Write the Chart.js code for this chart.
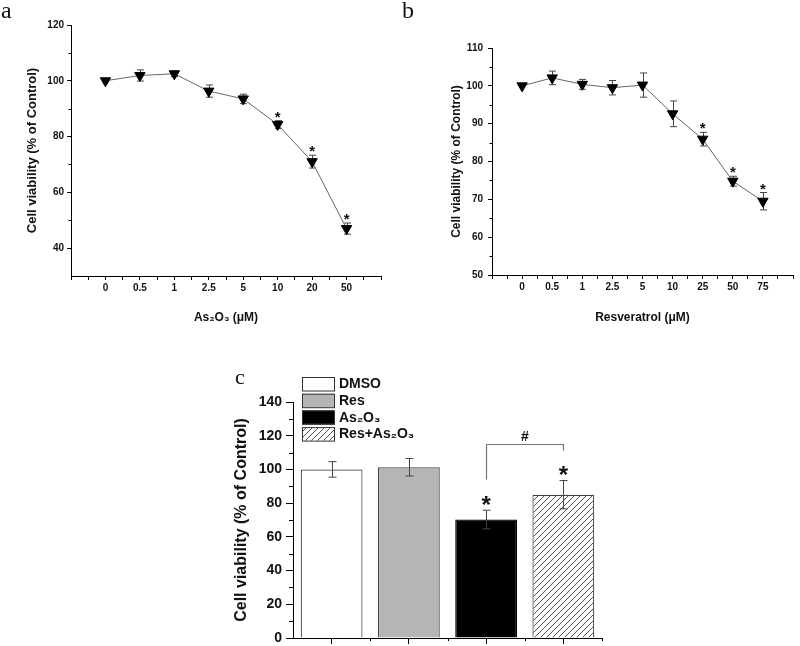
<!DOCTYPE html>
<html>
<head>
<meta charset="utf-8">
<script src="https://cdn.jsdelivr.net/npm/chart.js"></script>
<style>
  body { margin: 0; background: #fff; width: 800px; height: 646px; position: relative; overflow: hidden; }
  canvas { position: absolute; }
</style>
</head>
<body>
<canvas id="chartA" width="400" height="330" style="left:0;top:0"></canvas>
<canvas id="chartB" width="400" height="330" style="left:400px;top:0"></canvas>
<canvas id="chartC" width="420" height="300" style="left:200px;top:360px"></canvas>
<script>
// panel a: As2O3 dose response
var dosesA = ['0', '0.5', '1', '2.5', '5', '10', '20', '50'];
var viabilityA = [100, 101.9, 102.5, 96.3, 93.5, 84.3, 71.0, 47.0];
var errorA = [0, 2.0, 1.0, 2.2, 1.7, 1.4, 2.3, 2.0];
var starsA = [5, 6, 7];
var yTicksA = [40, 60, 80, 100, 120];
var yMinorA = [50, 70, 90, 110];

// panel b: resveratrol dose response
var dosesB = ['0', '0.5', '1', '2.5', '5', '10', '25', '50', '75'];
var viabilityB = [100, 102.1, 100.4, 99.5, 100.2, 92.6, 85.9, 74.8, 69.5];
var errorB = [0, 1.8, 1.3, 1.9, 3.2, 3.4, 1.8, 1.3, 2.3];
var starsB = [6, 7, 8];
var yTicksB = [50, 60, 70, 80, 90, 100, 110];
var yMinorB = [55, 65, 75, 85, 95, 105];

// panel c: combination
var groupsC = ['DMSO', 'Res', 'As₂O₃', 'Res+As₂O₃'];
var viabilityC = [100, 101.3, 70.3, 85.0];
var errorC = [4.6, 5.2, 5.5, 8.4];
var starsC = [2, 3];
var yTicksC = [0, 20, 40, 60, 80, 100, 120, 140];
var yMinorC = [10, 30, 50, 70, 90, 110, 130];

var SANS = '"Liberation Sans", Arial, sans-serif';
var SERIF = '"Liberation Serif", "Times New Roman", serif';
var INK = '#111';

function tickList(vals) {
  return vals.map(function (v) { return { value: v }; });
}

function halfSteps(from, to) {
  var t = [];
  for (var v = from; v <= to; v += 0.5) t.push({ value: v });
  return t;
}

function drawStar(ctx, x, cy, size) {
  ctx.font = 'bold ' + size + 'px ' + SANS;
  ctx.textAlign = 'center';
  ctx.textBaseline = 'alphabetic';
  var m = ctx.measureText('*');
  ctx.fillText('*', x, cy + (m.actualBoundingBoxAscent - m.actualBoundingBoxDescent) / 2);
}

function errorBar(ctx, px, top, bot, cap) {
  ctx.beginPath();
  ctx.moveTo(px, top); ctx.lineTo(px, bot);
  ctx.moveTo(px - cap, top); ctx.lineTo(px + cap, top);
  ctx.moveTo(px - cap, bot); ctx.lineTo(px + cap, bot);
  ctx.stroke();
}

function minorTicksY(chart, vals, len) {
  var ctx = chart.ctx, y = chart.scales.y, left = chart.chartArea.left;
  ctx.beginPath();
  vals.forEach(function (v) {
    var py = Math.round(y.getPixelForValue(v)) + 0.5;
    ctx.moveTo(left, py); ctx.lineTo(left - len, py);
  });
  ctx.stroke();
}

function doseChart(id, c) {
  var pts = c.values.map(function (v, i) { return { x: i, y: v }; });
  var overlay = {
    id: 'overlay',
    beforeDatasetsDraw: function (chart) {
      var ctx = chart.ctx, x = chart.scales.x, y = chart.scales.y;
      ctx.save();
      ctx.strokeStyle = '#444';
      ctx.lineWidth = 1;
      c.values.forEach(function (v, i) {
        if (!c.errors[i]) return;
        var px = Math.round(x.getPixelForValue(i)) + 0.5;
        errorBar(ctx, px, y.getPixelForValue(v + c.errors[i]), y.getPixelForValue(v - c.errors[i]), 3.5);
      });
      ctx.restore();
    },
    afterDraw: function (chart) {
      var ctx = chart.ctx, x = chart.scales.x, y = chart.scales.y;
      ctx.save();
      ctx.strokeStyle = '#000';
      ctx.lineWidth = 1;
      minorTicksY(chart, c.minorY, 2.5);
      ctx.fillStyle = INK;
      c.stars.forEach(function (i) {
        drawStar(ctx, x.getPixelForValue(i), y.getPixelForValue(c.values[i] + c.errors[i]) - 6, 15);
      });
      ctx.font = '24px ' + SERIF;
      ctx.textAlign = 'left';
      ctx.textBaseline = 'alphabetic';
      ctx.fillText(c.letter, c.letterX, c.letterY);
      ctx.restore();
    }
  };

  return new Chart(document.getElementById(id).getContext('2d'), {
    type: 'line',
    data: {
      datasets: [{
        data: pts,
        borderColor: '#666',
        borderWidth: 1,
        tension: 0,
        pointStyle: 'triangle',
        rotation: 180,
        pointRadius: 6,
        pointBackgroundColor: '#000',
        pointBorderColor: '#000',
        pointBorderWidth: 1
      }]
    },
    options: {
      responsive: false,
      animation: false,
      layout: { padding: c.padding },
      plugins: { legend: { display: false }, tooltip: { enabled: false } },
      scales: {
        x: {
          type: 'linear',
          min: -1,
          max: c.doses.length,
          afterBuildTicks: function (s) { s.ticks = halfSteps(-1, c.doses.length); },
          afterFit: function (s) { s.height = c.xHeight; },
          ticks: {
            autoSkip: false,
            maxRotation: 0,
            padding: 2,
            color: INK,
            font: { family: SANS, size: 10, weight: 'bold' },
            callback: function (v) {
              return (Number.isInteger(v) && v >= 0 && v < c.doses.length) ? c.doses[v] : '';
            }
          },
          grid: { drawOnChartArea: false, tickLength: 4, color: '#000' },
          border: { color: '#000', width: 1 },
          title: {
            display: true,
            text: c.xTitle,
            color: INK,
            font: { family: SANS, size: 12, weight: 'bold' },
            padding: { top: 0, bottom: 4.8 }
          }
        },
        y: {
          min: c.yMin,
          max: c.yMax,
          afterBuildTicks: function (s) { s.ticks = tickList(c.yTicks); },
          afterFit: function (s) { s.width = c.yWidth; },
          ticks: {
            padding: c.yPad,
            color: INK,
            font: { family: SANS, size: 10, weight: 'bold' }
          },
          grid: { drawOnChartArea: false, tickLength: 4, color: '#000' },
          border: { color: '#000', width: 1 },
          title: {
            display: true,
            text: 'Cell viability (% of Control)',
            color: INK,
            font: { family: SANS, size: c.yTitleSize, weight: 'bold' },
            padding: { top: c.yTitlePad, bottom: 0 }
          }
        }
      }
    },
    plugins: [overlay]
  });
}

doseChart('chartA', {
  doses: dosesA, values: viabilityA, errors: errorA, stars: starsA,
  yTicks: yTicksA, minorY: yMinorA, yMin: 30, yMax: 120,
  xTitle: 'As₂O₃ (μM)',
  padding: { left: 0, right: 19, top: 25, bottom: 0 },
  xHeight: 54, yWidth: 71, yPad: 3, yTitleSize: 13, yTitlePad: 25,
  letter: 'a', letterX: 1, letterY: 17.5
});

doseChart('chartB', {
  doses: dosesB, values: viabilityB, errors: errorB, stars: starsB,
  yTicks: yTicksB, minorY: yMinorB, yMin: 50, yMax: 110,
  xTitle: 'Resveratrol (μM)',
  padding: { left: 0, right: 2, top: 48, bottom: 0 },
  xHeight: 55, yWidth: 92, yPad: 5, yTitleSize: 12, yTitlePad: 49.5,
  letter: 'b', letterX: 2, letterY: 18.3
});

// hatch for Res+As2O3
function hatch(ctx) {
  var t = document.createElement('canvas');
  t.width = 6; t.height = 6;
  var g = t.getContext('2d');
  g.fillStyle = '#fff';
  g.fillRect(0, 0, 6, 6);
  g.strokeStyle = '#555';
  g.lineWidth = 1;
  g.beginPath();
  g.moveTo(0, 6); g.lineTo(6, 0);
  g.moveTo(-1, 1); g.lineTo(1, -1);
  g.moveTo(5, 7); g.lineTo(7, 5);
  g.stroke();
  return ctx.createPattern(t, 'repeat');
}

var ctxC = document.getElementById('chartC').getContext('2d');
var fillsC = ['#ffffff', '#b5b5b5', '#000000', hatch(ctxC)];

var overlayC = {
  id: 'overlayC',
  afterDatasetsDraw: function (chart) {
    var ctx = chart.ctx, x = chart.scales.x, y = chart.scales.y;
    ctx.save();
    ctx.strokeStyle = '#444';
    ctx.lineWidth = 1;
    viabilityC.forEach(function (v, i) {
      var px = Math.round(x.getPixelForValue(i)) + 0.5;
      errorBar(ctx, px, y.getPixelForValue(v + errorC[i]), y.getPixelForValue(v - errorC[i]), 4);
    });
    ctx.fillStyle = INK;
    starsC.forEach(function (i) {
      drawStar(ctx, x.getPixelForValue(i), y.getPixelForValue(viabilityC[i] + errorC[i]) - 10, 24);
    });
    // bracket As2O3 vs Res+As2O3
    var xl = Math.round(x.getPixelForValue(2)) + 0.5, xr = Math.round(x.getPixelForValue(3)) + 0.5;
    var yt = Math.round(y.getPixelForValue(115.3)) + 0.5;
    ctx.strokeStyle = '#777';
    ctx.lineWidth = 1.2;
    ctx.beginPath();
    ctx.moveTo(xl, y.getPixelForValue(94));
    ctx.lineTo(xl, yt);
    ctx.lineTo(xr, yt);
    ctx.lineTo(xr, y.getPixelForValue(111.3));
    ctx.stroke();
    ctx.font = 'bold 14px ' + SANS;
    ctx.textAlign = 'center';
    ctx.textBaseline = 'middle';
    ctx.fillText('#', (xl + xr) / 2, yt - 7);
    ctx.restore();
  },
  afterDraw: function (chart) {
    var ctx = chart.ctx, x = chart.scales.x, a = chart.chartArea;
    ctx.save();
    ctx.strokeStyle = '#000';
    ctx.lineWidth = 1;
    minorTicksY(chart, yMinorC, 4);
    ctx.beginPath();
    [0.5, 1.5, 2.5, 3.5].forEach(function (v) {
      var px = Math.round(x.getPixelForValue(v)) + 0.5;
      ctx.moveTo(px, a.bottom); ctx.lineTo(px, a.bottom + 3);
    });
    ctx.stroke();
    // legend
    var bx = a.left + 9, by = a.top - 25;
    groupsC.forEach(function (g, i) {
      var top = by + i * 16.7;
      ctx.fillStyle = fillsC[i];
      ctx.fillRect(bx, top, 32, 13.5);
      ctx.strokeStyle = '#333';
      ctx.strokeRect(bx + 0.5, top + 0.5, 32, 13.5);
      ctx.fillStyle = INK;
      ctx.font = 'bold 14px ' + SANS;
      ctx.textAlign = 'left';
      ctx.textBaseline = 'middle';
      ctx.fillText(g, bx + 37, top + 7.5);
    });
    ctx.font = '22px ' + SERIF;
    ctx.textAlign = 'left';
    ctx.textBaseline = 'alphabetic';
    ctx.fillText('c', 35, 24);
    ctx.restore();
  }
};

new Chart(ctxC, {
  type: 'bar',
  data: {
    labels: groupsC,
    datasets: [{
      data: viabilityC,
      backgroundColor: fillsC,
      borderColor: ['#444', '#444', '#000', '#444'],
      borderWidth: 1.2,
      barPercentage: 0.8,
      categoryPercentage: 1
    }]
  },
  options: {
    responsive: false,
    animation: false,
    layout: { padding: { left: 0, right: 18, top: 42, bottom: 0 } },
    plugins: { legend: { display: false }, tooltip: { enabled: false } },
    scales: {
      x: {
        offset: true,
        afterFit: function (s) { s.height = 22; },
        ticks: { display: false },
        grid: { offset: false, drawOnChartArea: false, tickLength: 6, color: '#000' },
        border: { color: '#000', width: 1 }
      },
      y: {
        min: 0,
        max: 140,
        afterBuildTicks: function (s) { s.ticks = tickList(yTicksC); },
        afterFit: function (s) { s.width = 93; },
        ticks: {
          padding: 4,
          color: INK,
          font: { family: SANS, size: 14, weight: 'bold' }
        },
        grid: { drawOnChartArea: false, tickLength: 7, color: '#000' },
        border: { color: '#000', width: 1 },
        title: {
          display: true,
          text: 'Cell viability (% of Control)',
          color: INK,
          font: { family: SANS, size: 16, weight: 'bold' },
          padding: { top: 32, bottom: 0 }
        }
      }
    }
  },
  plugins: [overlayC]
});
</script>
</body>
</html>
